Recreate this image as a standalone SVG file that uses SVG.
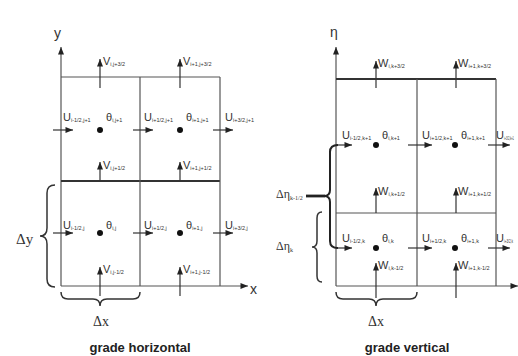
<svg xmlns="http://www.w3.org/2000/svg" width="518" height="356" viewBox="0 0 518 356">
<defs>
<marker id="ah" viewBox="0 0 10 8" refX="10" refY="4" markerWidth="9" markerHeight="6" markerUnits="userSpaceOnUse" orient="auto"><path d="M0,0 L10,4 L0,8 z" fill="#222"/></marker>
<style>
.ln{stroke:#555;stroke-width:1.2;fill:none}
.thk{stroke:#333;stroke-width:2.2;fill:none}
.arr{stroke:#333;stroke-width:1.2;fill:none;marker-end:url(#ah)}
.br{stroke:#333;stroke-width:1.5;fill:none}
.bbr{stroke:#222;stroke-width:2;fill:none}
.dot{fill:#111}
.lb{font-family:"Liberation Sans",Arial,sans-serif;font-size:11px;fill:#333}
.sub{font-size:5.5px}
.ax{font-family:"Liberation Sans",Arial,sans-serif;font-size:14px;fill:#333}
.dl{font-family:"Liberation Serif","Times New Roman",serif;font-size:14px;fill:#333}
.ttl{font-family:"Liberation Sans",Arial,sans-serif;font-size:13px;font-weight:bold;fill:#222;text-anchor:middle}
</style>
</defs>
<rect width="518" height="356" fill="#fff"/>

<g id="grade-horizontal">
  <g id="h-grid">
    <line class="ln" x1="61" y1="286" x2="61" y2="47" marker-end="url(#ah)"/>
    <line class="ln" x1="61" y1="286" x2="248" y2="286" marker-end="url(#ah)"/>
    <line class="ln" x1="61" y1="77" x2="220" y2="77"/>
    <line class="thk" x1="61" y1="181" x2="220" y2="181"/>
    <line class="ln" x1="140" y1="77" x2="140" y2="286"/>
    <line class="ln" x1="220" y1="77" x2="220" y2="286"/>
    <text class="ax" x="54" y="38">y</text>
    <text class="ax" x="250" y="294">x</text>
  </g>
  <g id="h-connectors">
    <path class="arr" d="M100,88 L100,59"/>
    <path class="arr" d="M180,88 L180,59"/>
    <path class="arr" d="M100,181 L100,162"/>
    <path class="arr" d="M180,181 L180,162"/>
    <path class="arr" d="M100,296 L100,267"/>
    <path class="arr" d="M180,296 L180,267"/>
    <path class="arr" d="M53,130 L73,130"/>
    <path class="arr" d="M133,130 L153,130"/>
    <path class="arr" d="M213,130 L233,130"/>
    <path class="arr" d="M53,233 L73,233"/>
    <path class="arr" d="M133,233 L153,233"/>
    <path class="arr" d="M213,233 L233,233"/>
  </g>
  <g id="h-points">
    <circle class="dot" cx="100" cy="130" r="3"/>
    <circle class="dot" cx="180" cy="130" r="3"/>
    <circle class="dot" cx="100" cy="233" r="3"/>
    <circle class="dot" cx="180" cy="233" r="3"/>
  </g>
  <g id="h-labels">
    <text class="lb" x="103" y="65">V<tspan class="sub" dy="1">i,j+3/2</tspan></text>
    <text class="lb" x="183" y="65">V<tspan class="sub" dy="1">i+1,j+3/2</tspan></text>
    <text class="lb" x="63" y="121">U<tspan class="sub" dy="1">i-1/2,j+1</tspan></text>
    <text class="lb" x="106" y="121">θ<tspan class="sub" dy="1">i,j+1</tspan></text>
    <text class="lb" x="144" y="121">U<tspan class="sub" dy="1">i+1/2,j+1</tspan></text>
    <text class="lb" x="186" y="121">θ<tspan class="sub" dy="1">i+1,j+1</tspan></text>
    <text class="lb" x="225" y="121">U<tspan class="sub" dy="1">i+3/2,j+1</tspan></text>
    <text class="lb" x="103" y="169">V<tspan class="sub" dy="1">i,j+1/2</tspan></text>
    <text class="lb" x="183" y="169">V<tspan class="sub" dy="1">i+1,j+1/2</tspan></text>
    <text class="lb" x="63" y="229">U<tspan class="sub" dy="1">i-1/2,j</tspan></text>
    <text class="lb" x="106" y="229">θ<tspan class="sub" dy="1">i,j</tspan></text>
    <text class="lb" x="144" y="229">U<tspan class="sub" dy="1">i+1/2,j</tspan></text>
    <text class="lb" x="186" y="229">θ<tspan class="sub" dy="1">i+1,j</tspan></text>
    <text class="lb" x="225" y="229">U<tspan class="sub" dy="1">i+3/2,j</tspan></text>
    <text class="lb" x="103" y="273">V<tspan class="sub" dy="1">i,j-1/2</tspan></text>
    <text class="lb" x="183" y="273">V<tspan class="sub" dy="1">i+1,j-1/2</tspan></text>
  </g>
  <g id="h-dy">
    <path class="br" d="M55,185 Q47,185 47,193 L47,228 Q47,236 40,236 Q47,236 47,244 L47,279 Q47,287 55,287"/>
    <text class="dl" x="16" y="244" style="font-size:15px">Δy</text>
  </g>
  <g id="h-dx">
    <path class="br" d="M61,292 Q61,299 68,299 L93,299 Q100,299 100,306 Q100,299 107,299 L133,299 Q140,299 140,292"/>
    <text class="dl" x="101" y="326" text-anchor="middle">Δx</text>
  </g>
  <text class="ttl" x="140" y="352">grade horizontal</text>
</g>

<g id="grade-vertical">
  <g id="v-grid">
    <line class="ln" x1="336" y1="286" x2="336" y2="47" marker-end="url(#ah)"/>
    <line class="ln" x1="336" y1="286" x2="518" y2="286" marker-end="url(#ah)"/>
    <line class="thk" x1="336" y1="79" x2="496" y2="79"/>
    <line class="ln" x1="336" y1="213" x2="496" y2="213"/>
    <line class="ln" x1="417" y1="79" x2="417" y2="286"/>
    <line class="ln" x1="496" y1="79" x2="496" y2="286"/>
    <text class="ax" x="330" y="37">η</text>
  </g>
  <g id="v-connectors">
    <path class="arr" d="M376,88 L376,61"/>
    <path class="arr" d="M456,88 L456,61"/>
    <path class="arr" d="M376,213 L376,188"/>
    <path class="arr" d="M456,213 L456,188"/>
    <path class="arr" d="M376,298 L376,263"/>
    <path class="arr" d="M456,298 L456,263"/>
    <path class="arr" d="M336,145 L352,145"/>
    <path class="arr" d="M408,145 L432,145"/>
    <path class="arr" d="M488,145 L510,145"/>
    <path class="arr" d="M336,248 L352,248"/>
    <path class="arr" d="M408,248 L432,248"/>
    <path class="arr" d="M488,248 L510,248"/>
  </g>
  <g id="v-points">
    <circle class="dot" cx="376" cy="145" r="3"/>
    <circle class="dot" cx="455" cy="145" r="3"/>
    <circle class="dot" cx="376" cy="248" r="3"/>
    <circle class="dot" cx="455" cy="248" r="3"/>
  </g>
  <g id="v-labels">
    <text class="lb" x="378" y="67">W<tspan class="sub" dy="1">i,k+3/2</tspan></text>
    <text class="lb" x="458" y="67">W<tspan class="sub" dy="1">i+1,k+3/2</tspan></text>
    <text class="lb" x="342" y="139">U<tspan class="sub" dy="1">i-1/2,k+1</tspan></text>
    <text class="lb" x="382" y="139">θ<tspan class="sub" dy="1">i,k+1</tspan></text>
    <text class="lb" x="422" y="139">U<tspan class="sub" dy="1">i+1/2,k+1</tspan></text>
    <text class="lb" x="461" y="139">θ<tspan class="sub" dy="1">i+1,k+1</tspan></text>
    <text class="lb" x="496" y="139">U<tspan class="sub" dy="1" textLength="10" lengthAdjust="spacingAndGlyphs">i+3/2,k+1</tspan></text>
    <text class="lb" x="378" y="195">W<tspan class="sub" dy="1">i,k+1/2</tspan></text>
    <text class="lb" x="458" y="195">W<tspan class="sub" dy="1">i+1,k+1/2</tspan></text>
    <text class="lb" x="342" y="242">U<tspan class="sub" dy="1">i-1/2,k</tspan></text>
    <text class="lb" x="382" y="242">θ<tspan class="sub" dy="1">i,k</tspan></text>
    <text class="lb" x="422" y="242">U<tspan class="sub" dy="1">i+1/2,k</tspan></text>
    <text class="lb" x="461" y="242">θ<tspan class="sub" dy="1">i+1,k</tspan></text>
    <text class="lb" x="496" y="242">U<tspan class="sub" dy="1" textLength="9" lengthAdjust="spacingAndGlyphs">i+3/2,k</tspan></text>
    <text class="lb" x="378" y="269">W<tspan class="sub" dy="1">i,k-1/2</tspan></text>
    <text class="lb" x="458" y="269">W<tspan class="sub" dy="1">i+1,k-1/2</tspan></text>
  </g>
  <g id="v-dk12">
    <path class="bbr" d="M338,145 Q330,145 330,152 L330,190 Q330,196 324,196 Q330,196 330,202 L330,241 Q330,248 338,248"/>
    <line class="bbr" x1="306" y1="196" x2="325" y2="196" style="stroke-width:2.8"/>
    <text class="dl" x="276" y="198" style="font-size:12px">Δη<tspan class="sub" style="font-size:6px" dy="2">k-1/2</tspan></text>
  </g>
  <g id="v-dk">
    <path class="br" d="M322,212 Q317,212 317,218 L317,241 Q317,247 312,247 Q317,247 317,253 L317,276 Q317,282 322,282"/>
    <text class="dl" x="276" y="250" style="font-size:12px">Δη<tspan class="sub" style="font-size:6px" dy="2">k</tspan></text>
  </g>
  <g id="v-dx">
    <path class="br" d="M336,292 Q336,299 343,299 L369,299 Q376,299 376,306 Q376,299 383,299 L410,299 Q417,299 417,292"/>
    <text class="dl" x="376" y="326" text-anchor="middle">Δx</text>
  </g>
  <text class="ttl" x="407" y="352">grade vertical</text>
</g>
</svg>
